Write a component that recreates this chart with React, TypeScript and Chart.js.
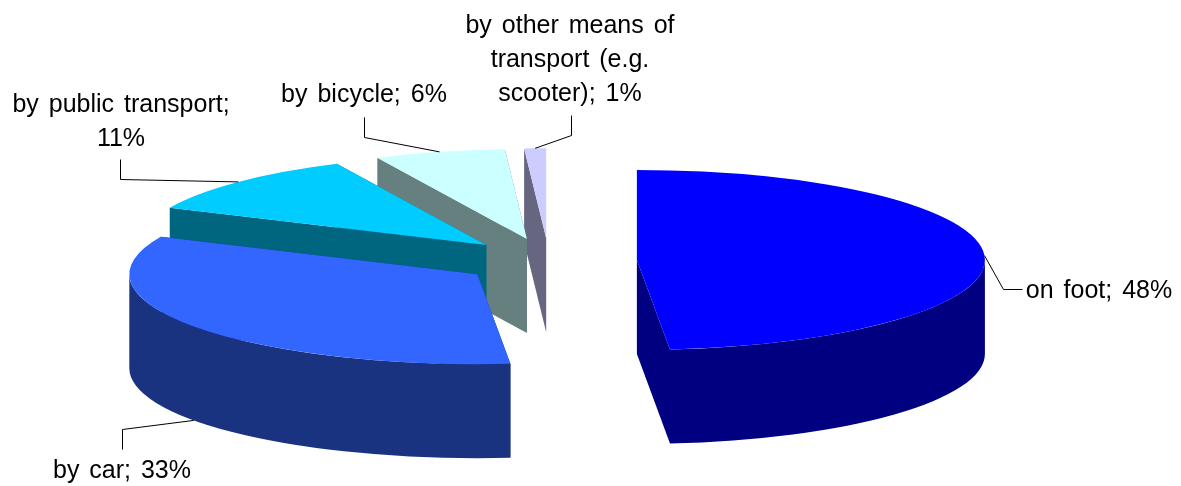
import { useEffect, useRef } from "react";
import { Chart, registerables } from "chart.js";

Chart.register(...registerables);

// Share of trips by mode of transport
const categories = [
  "on foot",
  "by car",
  "by public transport",
  "by bicycle",
  "by other means of transport (e.g. scooter)",
];
const shares = [48, 33, 11, 6, 1];
const topColors = ["#0000FF", "#3366FF", "#00CCFF", "#CCFFFF", "#CCCCFF"];
const wallColors = ["#000080", "#1A3380", "#006680", "#668080", "#666680"];

// Projection of the pie: vertical squash, extrusion height, explode distance, radius
const TILT = 0.2586;
const DEPTH = 94;
const EXPLODE = 88;
const RADIUS = 348;

const FONT = '25px "Liberation Sans", Arial, sans-serif';
const WORD_SPACING = "3px";
const LINE_HEIGHT = 34;

// Label placement: text centre, first baseline, wrap width, and the two leader elbows
const labelCenterX = [1099, 122, 121, 364, 570];
const labelBaseline = [298, 478, 112, 102, 33];
const labelWrap = [400, 400, 235, 400, 225];
const leaderElbows = [
  [[1003, 289], [1022, 289]],
  [[122, 429], [122, 449]],
  [[120, 179], [120, 159]],
  [[364, 137], [364, 117]],
  [[571, 135], [571, 115]],
];

function wrapText(ctx: CanvasRenderingContext2D, text: string, maxWidth: number) {
  const lines: string[] = [];
  let line = "";
  for (const word of text.split(" ")) {
    const next = line ? `${line} ${word}` : word;
    if (line && ctx.measureText(next).width > maxWidth) {
      lines.push(line);
      line = word;
    } else {
      line = next;
    }
  }
  lines.push(line);
  return lines;
}

// Centre of a slice after the explode offset, in the squashed projection
function sliceCenter(arc: any) {
  const mid = (arc.startAngle + arc.endAngle) / 2;
  return {
    mid,
    cx: arc.x + Math.cos(mid) * EXPLODE,
    cy: arc.y + Math.sin(mid) * EXPLODE * TILT,
  };
}

function drawWalls(ctx: CanvasRenderingContext2D, arc: any, color: string) {
  const { cx, cy } = sliceCenter(arc);
  const r = arc.outerRadius;
  const rTilt = r * TILT;
  ctx.fillStyle = color;

  for (const angle of [arc.startAngle, arc.endAngle]) {
    const ex = cx + Math.cos(angle) * r;
    const ey = cy + Math.sin(angle) * rTilt;
    ctx.beginPath();
    ctx.moveTo(cx, cy);
    ctx.lineTo(ex, ey);
    ctx.lineTo(ex, ey + DEPTH);
    ctx.lineTo(cx, cy + DEPTH);
    ctx.closePath();
    ctx.fill();
  }

  // The rim only faces the viewer on the front half of the ellipse
  const from = Math.max(arc.startAngle, 0);
  const to = Math.min(arc.endAngle, Math.PI);
  if (to > from) {
    ctx.beginPath();
    ctx.ellipse(cx, cy, r, rTilt, 0, from, to);
    ctx.ellipse(cx, cy + DEPTH, r, rTilt, 0, to, from, true);
    ctx.closePath();
    ctx.fill();
  }
}

const extrudedPie = {
  id: "extrudedPie",
  beforeDatasetDraw(chart: any) {
    const ctx: CanvasRenderingContext2D = chart.ctx;
    const arcs = chart.getDatasetMeta(0).data;
    // Painted back to front: the last slices sit behind the earlier ones
    for (let i = arcs.length - 1; i >= 0; i--) {
      const arc = arcs[i];
      const { cx, cy } = sliceCenter(arc);
      drawWalls(ctx, arc, wallColors[i]);
      ctx.save();
      ctx.translate(cx, cy);
      ctx.scale(1, TILT);
      ctx.translate(-arc.x, -arc.y);
      arc.draw(ctx);
      ctx.restore();
    }
    return false;
  },
  afterDraw(chart: any) {
    const ctx: CanvasRenderingContext2D = chart.ctx;
    const arcs = chart.getDatasetMeta(0).data;
    ctx.save();
    ctx.font = FONT;
    (ctx as any).wordSpacing = WORD_SPACING;
    ctx.textAlign = "center";
    ctx.textBaseline = "alphabetic";
    arcs.forEach((arc: any, i: number) => {
      const { mid, cx, cy } = sliceCenter(arc);
      const sx = cx + Math.cos(mid) * arc.outerRadius;
      const sy = cy + Math.sin(mid) * arc.outerRadius * TILT + (Math.sin(mid) > 0 ? DEPTH : 0);
      ctx.strokeStyle = "#000000";
      ctx.lineWidth = 1;
      ctx.beginPath();
      ctx.moveTo(sx, sy);
      for (const [ex, ey] of leaderElbows[i]) ctx.lineTo(ex + 0.5, ey + 0.5);
      ctx.stroke();

      ctx.fillStyle = "#000000";
      const lines = wrapText(ctx, `${categories[i]}; ${shares[i]}%`, labelWrap[i]);
      lines.forEach((line, n) => {
        ctx.fillText(line, labelCenterX[i], labelBaseline[i] + n * LINE_HEIGHT);
      });
    });
    ctx.restore();
  },
};

export default function App() {
  const canvasRef = useRef<HTMLCanvasElement>(null);

  useEffect(() => {
    document.body.style.margin = "0";
    const chart = new Chart(canvasRef.current!, {
      type: "pie",
      data: {
        labels: categories,
        datasets: [
          {
            data: shares,
            backgroundColor: topColors,
            borderWidth: 0,
            clip: false,
          } as any,
        ],
      },
      options: {
        animation: false,
        responsive: false,
        maintainAspectRatio: false,
        radius: RADIUS,
        layout: { padding: { top: 36, right: 83 } },
        plugins: { legend: { display: false }, tooltip: { enabled: false } },
      } as any,
      plugins: [extrudedPie as any],
    });
    return () => chart.destroy();
  }, []);

  return <canvas ref={canvasRef} width={1181} height={486} style={{ display: "block" }} />;
}
